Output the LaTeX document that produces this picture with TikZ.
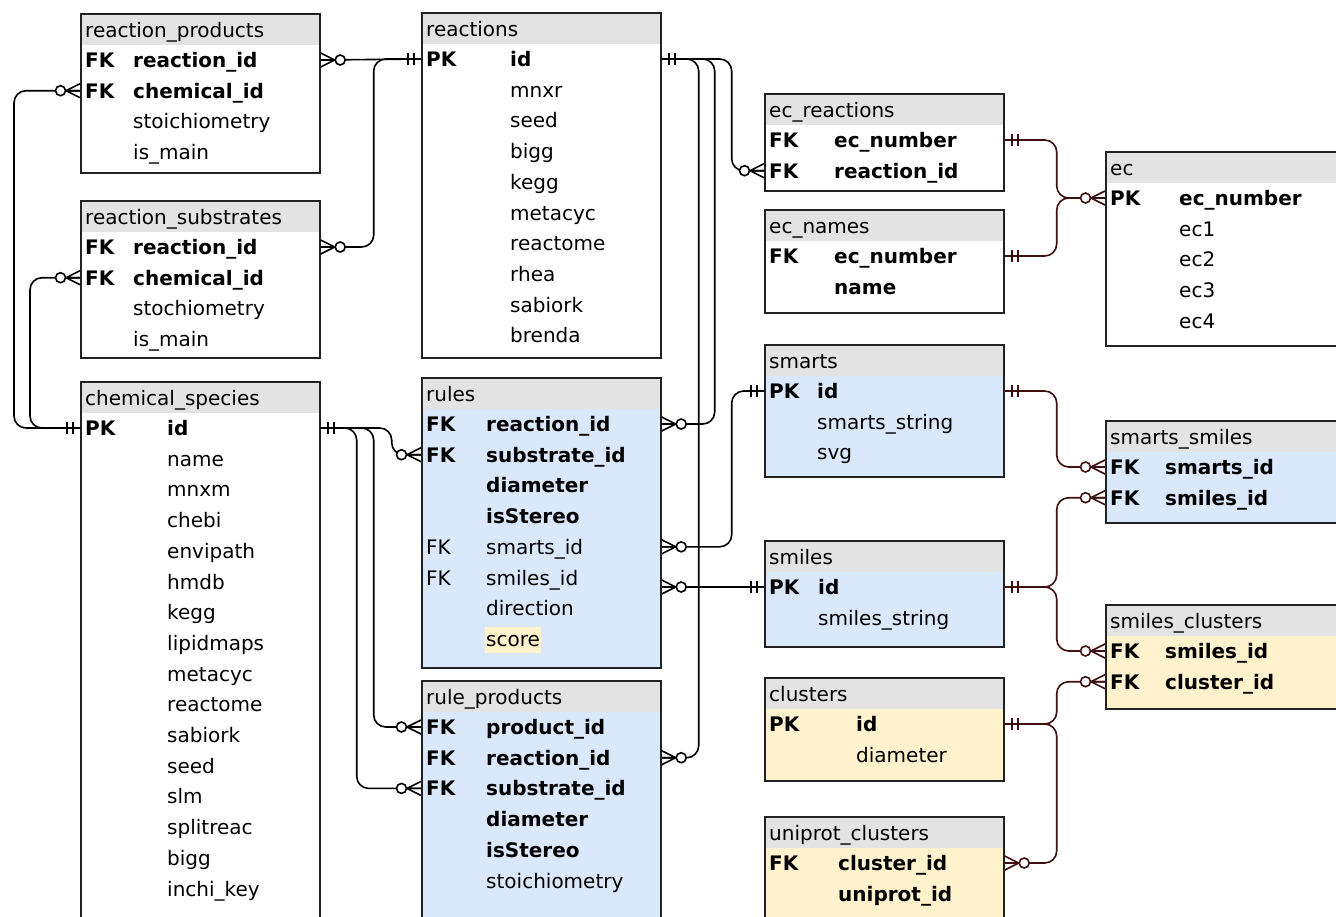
\documentclass[tikz,border=0pt]{standalone}
\usepackage{fontspec}
\setmainfont{DejaVu Sans}
\definecolor{hdrgray}{HTML}{E3E3E3}
\definecolor{rowblue}{HTML}{DAE8FC}
\definecolor{rowyellow}{HTML}{FFF2CC}
\definecolor{linkred}{HTML}{401010}
\definecolor{edgegray}{HTML}{222222}
\tikzset{
  tbl/.style={draw=edgegray, line width=1.7pt, inner sep=0pt},
  fld/.style={anchor=base west, inner sep=0pt, font=\fontsize{20}{24}\selectfont},
  rel/.style={line width=1.6pt, rounded corners=12pt},
  relr/.style={rel, draw=linkred},
  endk/.style={draw=black, line width=1.6pt},
  endr/.style={draw=linkred, line width=1.6pt},
  zmany/.pic={
    \draw[pic actions] (0,-7) -- (14,0) -- (0,7) (0,0) -- (14,0);
    \draw[pic actions, fill=white] (19.5,0) circle (5);
  },
  one/.pic={
    \draw[pic actions] (7,-6) -- (7,6) (13,-6) -- (13,6);
  }
}
% name, title, x, y, width, height, body fill, field column, rows
\newcommand\ertable[9]{%
  \fill[#7] (#3,#4) rectangle ++(#5,#6);
  \fill[hdrgray] (#3,#4) rectangle ++(#5,32);
  \node[tbl, minimum width=#5, minimum height=#6, anchor=north west] (#1) at (#3,#4) {};
  \node[fld] at (#3+5,#4+24) {#2};
  \foreach \k/\f/\w [count=\i] in {#9} {
    \coordinate (#1-\i) at (#3,#4+47+30.7*\i-30.7);
    \node[fld] at (#3+5,#4+54.5+30.7*\i-30.7) {\w\k};
    \node[fld] at (#3+#8,#4+54.5+30.7*\i-30.7) {\w\f};
  }%
}

\begin{document}
\begin{tikzpicture}[x=1pt, y=-1pt]
\useasboundingbox (0,0) rectangle (1336,916);
\clip (0,0) rectangle (1336,916);

% tables
\ertable{rprod}{reaction\_products}{80}{13}{239}{159}{white}{53}{FK/reaction\_id/\bfseries, FK/chemical\_id/\bfseries, /stoichiometry/\mdseries, /is\_main/\mdseries}
\ertable{rsub}{reaction\_substrates}{80}{200}{239}{157}{white}{53}{FK/reaction\_id/\bfseries, FK/chemical\_id/\bfseries, /stochiometry/\mdseries, /is\_main/\mdseries}
\ertable{chem}{chemical\_species}{80}{381}{239}{600}{white}{87}{PK/id/\bfseries, /name/\mdseries, /mnxm/\mdseries, /chebi/\mdseries, /envipath/\mdseries, /hmdb/\mdseries, /kegg/\mdseries, /lipidmaps/\mdseries, /metacyc/\mdseries, /reactome/\mdseries, /sabiork/\mdseries, /seed/\mdseries, /slm/\mdseries, /splitreac/\mdseries, /bigg/\mdseries, /inchi\_key/\mdseries}
\ertable{reac}{reactions}{421}{12}{239}{345}{white}{89}{PK/id/\bfseries, /mnxr/\mdseries, /seed/\mdseries, /bigg/\mdseries, /kegg/\mdseries, /metacyc/\mdseries, /reactome/\mdseries, /rhea/\mdseries, /sabiork/\mdseries, /brenda/\mdseries}
\ertable{rules}{rules}{421}{377}{239}{290}{rowblue}{65}{FK/reaction\_id/\bfseries, FK/substrate\_id/\bfseries, /diameter/\bfseries, /isStereo/\bfseries, FK/smarts\_id/\mdseries, FK/smiles\_id/\mdseries, /direction/\mdseries}
\node[fld, fill=rowyellow, inner xsep=1pt, text height=19pt, text depth=7pt] (score) at (485,377+54.5+7*30.7) {score};
\ertable{rprd}{rule\_products}{421}{680}{239}{300}{rowblue}{65}{FK/product\_id/\bfseries, FK/reaction\_id/\bfseries, FK/substrate\_id/\bfseries, /diameter/\bfseries, /isStereo/\bfseries, /stoichiometry/\mdseries}
\ertable{ecr}{ec\_reactions}{764}{93}{239}{97}{white}{70}{FK/ec\_number/\bfseries, FK/reaction\_id/\bfseries}
\ertable{ecn}{ec\_names}{764}{209}{239}{103}{white}{70}{FK/ec\_number/\bfseries, /name/\bfseries}
\ertable{ec}{ec}{1105}{151}{260}{194}{white}{74}{PK/ec\_number/\bfseries, /ec1/\mdseries, /ec2/\mdseries, /ec3/\mdseries, /ec4/\mdseries}
\ertable{smarts}{smarts}{764}{344}{239}{132}{rowblue}{53}{PK/id/\bfseries, /smarts\_string/\mdseries, /svg/\mdseries}
\ertable{smiles}{smiles}{764}{540}{239}{106}{rowblue}{54}{PK/id/\bfseries, /smiles\_string/\mdseries}
\ertable{clus}{clusters}{764}{677}{239}{103}{rowyellow}{92}{PK/id/\bfseries, /diameter/\mdseries}
\ertable{uclus}{uniprot\_clusters}{764}{816}{239}{150}{rowyellow}{74}{FK/cluster\_id/\bfseries, /uniprot\_id/\bfseries}
\ertable{ss}{smarts\_smiles}{1105}{420}{260}{102}{rowblue}{60}{FK/smarts\_id/\bfseries, FK/smiles\_id/\bfseries}
\ertable{sc}{smiles\_clusters}{1105}{604}{260}{104}{rowyellow}{60}{FK/smiles\_id/\bfseries, FK/cluster\_id/\bfseries}

% links
\draw[rel] (rprod.east |- rprod-1) -- (reac.west |- reac-1);
\draw[rel] (rsub.east |- rsub-1) -- ++(53,0) |- (reac.west |- reac-1);
\draw[rel] (rprod.west |- rprod-2) -- ++(-66,0) |- (chem.west |- chem-1);
\draw[rel] (rsub.west |- rsub-2) -- ++(-50,0) |- (chem.west |- chem-1);
\foreach \dx/\t/\r in {37/rprd/2, 53/rules/1}
  \draw[rel] (reac.east |- reac-1) -- ++(\dx,0) |- (\t.east |- \t-\r);
\draw[rel] (reac.east |- reac-1) -- ++(70,0) |- (ecr.west |- ecr-2);
\foreach \dx/\r in {36/3, 53/1}
  \draw[rel] (chem.east |- chem-1) -- ++(\dx,0) |- (rprd.west |- rprd-\r);
\draw[rel] (chem.east |- chem-1) -- ++(71,0) |- (rules.west |- rules-2);
\draw[rel] (rules.east |- rules-5) -- ++(70,0) |- (smarts.west |- smarts-1);
\draw[rel] (rules.east |- smiles-1) -- (smiles.west |- smiles-1);
\draw[relr] (smarts.east |- smarts-1) -- ++(52,0) |- (ss.west |- ss-1);
\draw[relr] (smiles.east |- smiles-1) -- ++(52,0) |- (ss.west |- ss-2);
\draw[relr] (smiles.east |- smiles-1) -- ++(52,0) |- (sc.west |- sc-1);
\draw[relr] (clus.east |- clus-1) -- ++(52,0) |- (sc.west |- sc-2);
\draw[relr] (clus.east |- clus-1) -- ++(52,0) |- (uclus.east |- uclus-1);
\draw[relr] (ecr.east |- ecr-1) -- ++(52,0) |- (ec.west |- ec-1);
\draw[relr] (ecn.east |- ecn-1) -- ++(52,0) |- (ec.west |- ec-1);

% ends
\foreach \t/\r in {rprod/1, rsub/1, rprd/2, rules/1, rules/5}
  \pic[endk] at (\t.east |- \t-\r) {zmany};
\pic[endk] at (rules.east |- smiles-1) {zmany};
\pic[endr] at (uclus.east |- uclus-1) {zmany};
\foreach \t/\r in {rprod/2, rsub/2, ecr/2, rprd/3, rprd/1, rules/2}
  \pic[endk, rotate=180] at (\t.west |- \t-\r) {zmany};
\foreach \t/\r in {ss/1, ss/2, sc/1, sc/2, ec/1}
  \pic[endr, rotate=180] at (\t.west |- \t-\r) {zmany};
\foreach \t in {reac, chem}
  \pic[endk] at (\t.east |- \t-1) {one};
\foreach \t in {smarts, smiles, clus, ecr, ecn}
  \pic[endr] at (\t.east |- \t-1) {one};
\foreach \t in {reac, chem, smarts, smiles}
  \pic[endk, rotate=180] at (\t.west |- \t-1) {one};
\end{tikzpicture}
\end{document}
